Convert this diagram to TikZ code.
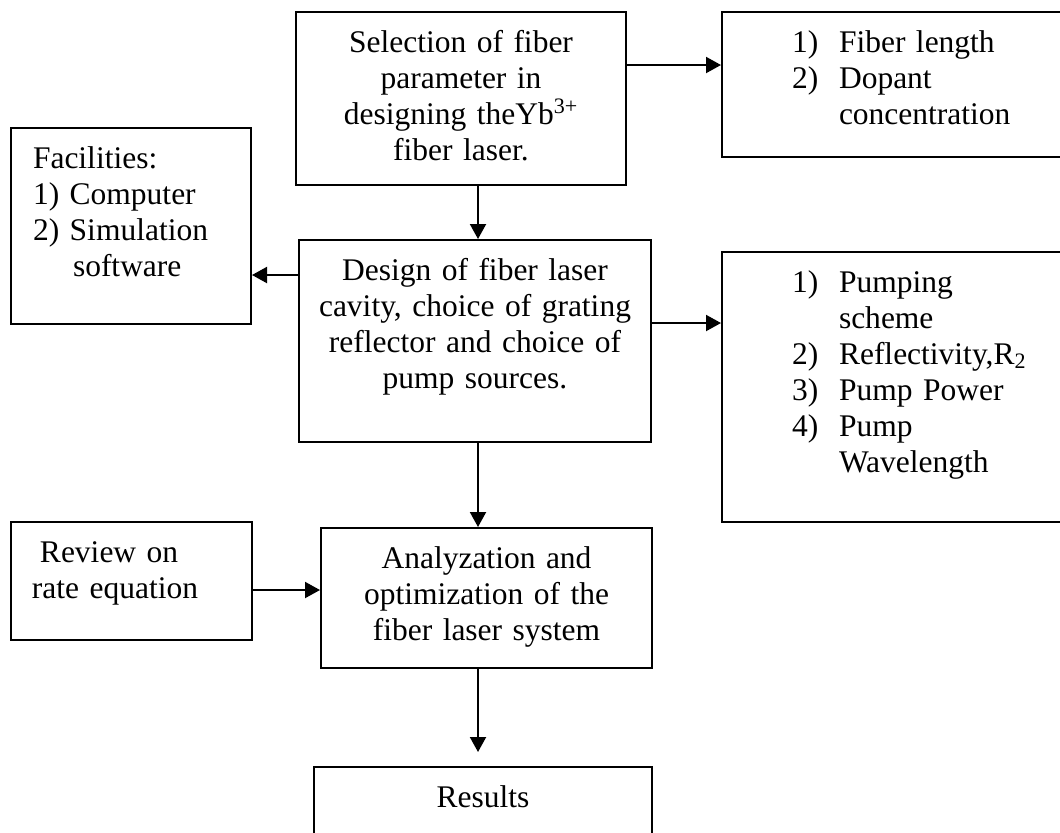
\documentclass[tikz,border=0pt]{standalone}
\usepackage{fontspec}
\setmainfont{Liberation Serif}
\usetikzlibrary{arrows.meta}
\newcommand{\numitem}[1]{\makebox[23.5pt][l]{#1}}

\begin{document}
\begin{tikzpicture}[x=0.5pt,y=-0.5pt,
    box/.style={draw, line width=1pt, anchor=north west, inner ysep=0pt,
        inner xsep=0pt, text height=20pt, font=\fontsize{15.75pt}{18pt}\selectfont},
    list/.style={box, align=left, inner xsep=35pt, text width=130pt},
    arr/.style={line width=1pt, -{Triangle[length=7.5pt,width=8pt]}}]
\path[use as bounding box, clip] (0,0) rectangle (1060,832);

\node[box, align=center, text width=165pt, text depth=66.5pt] (sel) at (295,11)
    {Selection of fiber\\parameter in\\designing theYb\textsuperscript{3+}\\fiber laser.};
\node[list, text depth=52.5pt] (par1) at (721,11)
    {\numitem{1)}Fiber length\\\numitem{2)}Dopant\\\hspace*{23.5pt}concentration};
\node[box, align=left, inner xsep=11pt, text width=98pt, text depth=78pt] (fac) at (10,127)
    {Facilities:\\1) Computer\\2) Simulation\\\hspace*{20pt}software};
\node[box, align=center, text width=176pt, text depth=81pt] (des) at (298,239)
    {Design of fiber laser\\cavity, choice of grating\\reflector and choice of\\pump sources.};
\node[list, text depth=115pt] (par2) at (721,251)
    {\numitem{1)}Pumping\\\hspace*{23.5pt}scheme\\\numitem{2)}Reflectivity,R\textsubscript{2}\\
     \numitem{3)}Pump Power\\\numitem{4)}Pump\\\hspace*{23.5pt}Wavelength};
\node[box, align=left, inner xsep=10.5pt, text width=99.5pt, text depth=39pt] (rev) at (10,521)
    {\hspace*{4pt}Review on\\rate equation};
\node[box, align=center, text width=165.5pt, text depth=50pt] (ana) at (320,527)
    {Analyzation and\\optimization of the\\fiber laser system};
\node[box, align=center, text width=169pt, text depth=30pt] (res) at (313,766) {Results};

\coordinate (a1) at ([yshift=-27pt]sel.north east);
\coordinate (a2) at ([xshift=8.5pt]sel.south);
\coordinate (a3) at ([yshift=-18pt]des.north west);
\coordinate (a4) at ([yshift=-42pt]des.north east);
\coordinate (a5) at ([xshift=1.5pt]des.south);
\coordinate (a6) at ([yshift=-34.5pt]rev.north east);
\coordinate (a7) at ([xshift=-4.25pt]ana.south);

\draw[arr] (a1) -- (a1 -| par1.west);
\draw[arr] (a2) -- (a2 |- des.north);
\draw[arr] (a3) -- (a3 -| fac.east);
\draw[arr] (a4) -- (a4 -| par2.west);
\draw[arr] (a5) -- (a5 |- ana.north);
\draw[arr] (a6) -- (a6 -| ana.west);
\draw[arr, shorten >=7pt] (a7) -- (a7 |- res.north);
\end{tikzpicture}
\end{document}
